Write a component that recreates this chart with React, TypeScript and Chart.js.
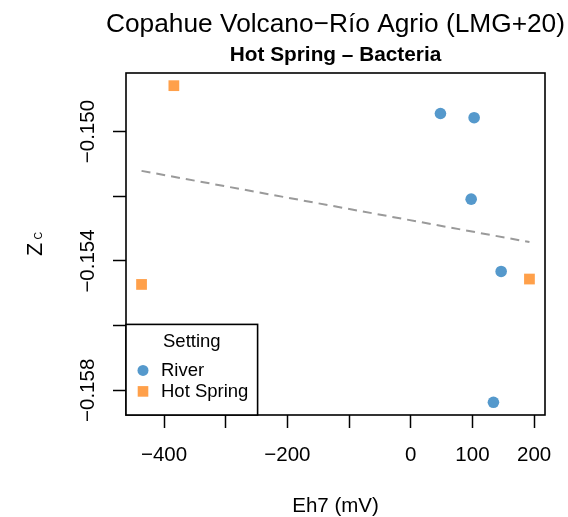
import React, { useEffect, useRef } from "react";
import { Chart, registerables } from "chart.js";
Chart.register(...registerables);

// ---- data ----
const riverX = [48.1, 102.7, 97.9, 146.5, 134.0];
const riverY = [-0.14944, -0.14957, -0.152088, -0.154324, -0.158371];
const hotX = [-384.1, 192.4, -436.5];
const hotY = [-0.14858, -0.154559, -0.154726];
const fitX = [-436.5, 192.4];
const fitY = [-0.151214, -0.153416];
const xTicks = [-400, -300, -200, -100, 0, 100, 200];
const xTickLabels = ["−400", "", "−200", "", "0", "100", "200"];
const yTicks = [-0.15, -0.152, -0.154, -0.156, -0.158];
const yTickLabels = ["−0.150", "", "−0.154", "", "−0.158"];
const xLimits = [-461.7, 217.6];
const yLimits = [-0.158763, -0.148188];
const mainTitle = "Copahue Volcano−Río Agrio (LMG+20)";
const subTitle = "Hot Spring – Bacteria";
const xTitle = "Eh7 (mV)";
const yTitleMain = "Z";
const yTitleSub = "C";
const legendTitle = "Setting";
const seriesNames = ["River", "Hot Spring"];
const seriesColors = ["#5599cc", "#ffa04a"];
const fitColor = "#9a9a9a";

const FONT = '"Liberation Sans", Arial, Helvetica, sans-serif';

const deco = {
  id: "deco",
  afterDraw(chart: any) {
    const ctx = chart.ctx as CanvasRenderingContext2D;
    const a = chart.chartArea;
    const ys = chart.scales.y;
    const cx = (a.left + a.right) / 2;
    const cy = (a.top + a.bottom) / 2;
    ctx.save();
    ctx.fillStyle = "#000";
    ctx.textAlign = "center";
    ctx.textBaseline = "alphabetic";
    ctx.font = `26.3px ${FONT}`;
    ctx.fillText(mainTitle, cx, 31.7);
    ctx.font = `bold 20.8px ${FONT}`;
    ctx.fillText(subTitle, cx, 60.5);
    ctx.font = `20.5px ${FONT}`;
    ctx.fillText(xTitle, cx, 511.5);

    // y tick labels (rotated)
    yTicks.forEach((v, i) => {
      if (!yTickLabels[i]) return;
      const py = ys.getPixelForValue(v);
      ctx.save();
      ctx.translate(a.left - 32.5, py);
      ctx.rotate(-Math.PI / 2);
      ctx.textAlign = "center";
      ctx.font = `20.5px ${FONT}`;
      ctx.fillText(yTickLabels[i], 0, 0);
      ctx.restore();
    });

    // y title Z_C
    ctx.save();
    ctx.translate(41.5, cy);
    ctx.rotate(-Math.PI / 2);
    ctx.textAlign = "left";
    ctx.font = `21.5px ${FONT}`;
    const zw = ctx.measureText(yTitleMain).width;
    ctx.font = `10.5px ${FONT}`;
    const cw = ctx.measureText(yTitleSub).width;
    const gap = 3.5;
    const start = -(zw + gap + cw) / 2;
    ctx.font = `21.5px ${FONT}`;
    ctx.fillText(yTitleMain, start, 0);
    ctx.font = `10.5px ${FONT}`;
    ctx.fillText(yTitleSub, start + zw + gap, 0.5);
    ctx.restore();

    // box
    ctx.strokeStyle = "#000";
    ctx.lineWidth = 1.6;
    ctx.strokeRect(a.left, a.top, a.right - a.left, a.bottom - a.top);

    // legend
    const lw = 131.6, lh = 90.6;
    const lx = a.left, ly = a.bottom - lh;
    ctx.fillStyle = "#fff";
    ctx.fillRect(lx, ly, lw, lh);
    ctx.strokeRect(lx, ly, lw, lh);
    ctx.fillStyle = "#000";
    ctx.font = `18.5px ${FONT}`;
    ctx.textAlign = "center";
    ctx.fillText(legendTitle, lx + lw / 2, ly + 22.3);
    ctx.textAlign = "left";
    seriesNames.forEach((name, i) => {
      const my = ly + 46 + i * 21;
      ctx.fillStyle = seriesColors[i];
      if (i === 0) {
        ctx.beginPath();
        ctx.arc(lx + 17, my, 5.5, 0, Math.PI * 2);
        ctx.fill();
      } else {
        ctx.fillRect(lx + 17 - 5.3, my - 5.3, 10.6, 10.6);
      }
      ctx.fillStyle = "#000";
      ctx.fillText(name, lx + 35, my + 5.8);
    });
    ctx.restore();
  },
};

export default function App() {
  const ref = useRef<HTMLCanvasElement | null>(null);
  useEffect(() => {
    document.body.style.margin = "0";
    const canvas = ref.current;
    if (!canvas) return;
    const chart = new Chart(canvas, {
      type: "scatter",
      data: {
        datasets: [
          {
            label: "fit",
            data: fitX.map((x, i) => ({ x, y: fitY[i] })),
            showLine: true,
            borderColor: fitColor,
            borderWidth: 2,
            borderDash: [9, 6],
            pointRadius: 0,
            fill: false,
          },
          {
            label: seriesNames[0],
            data: riverX.map((x, i) => ({ x, y: riverY[i] })),
            pointStyle: "circle",
            pointRadius: 5.8,
            backgroundColor: seriesColors[0],
            borderWidth: 0,
          },
          {
            label: seriesNames[1],
            data: hotX.map((x, i) => ({ x, y: hotY[i] })),
            pointStyle: "rect",
            pointRadius: 7.6,
            backgroundColor: seriesColors[1],
            borderWidth: 0,
          },
        ],
      },
      options: {
        animation: false,
        responsive: false,
        events: [],
        layout: { padding: { top: 73, right: 23, bottom: 0, left: 0 } },
        plugins: { legend: { display: false }, tooltip: { enabled: false } },
        scales: {
          x: {
            type: "linear",
            position: "bottom",
            min: xLimits[0],
            max: xLimits[1],
            afterBuildTicks: (s: any) => {
              s.ticks = xTicks.map((v) => ({ value: v }));
            },
            afterFit: (s: any) => {
              s.height = 102;
            },
            ticks: {
              autoSkip: false,
              maxRotation: 0,
              minRotation: 0,
              padding: 15,
              color: "#000",
              font: { family: FONT, size: 20.5 },
              callback: (v: any) => {
                const i = xTicks.indexOf(Number(v));
                return i >= 0 ? xTickLabels[i] : "";
              },
            },
            grid: {
              drawOnChartArea: false,
              drawTicks: true,
              tickLength: 13,
              tickColor: "#000",
              tickWidth: 1.5,
            },
            border: { display: false },
          },
          y: {
            type: "linear",
            position: "left",
            min: yLimits[0],
            max: yLimits[1],
            afterBuildTicks: (s: any) => {
              s.ticks = yTicks.map((v) => ({ value: v }));
            },
            afterFit: (s: any) => {
              s.width = 126;
            },
            ticks: {
              autoSkip: false,
              color: "#000",
              font: { family: FONT, size: 20.5 },
              callback: () => "",
            },
            grid: {
              drawOnChartArea: false,
              drawTicks: true,
              tickLength: 13,
              tickColor: "#000",
              tickWidth: 1.5,
            },
            border: { display: false },
          },
        },
      },
      plugins: [deco],
    } as any);
    return () => chart.destroy();
  }, []);
  return (
    <div style={{ width: 568, height: 517 }}>
      <canvas ref={ref} width={568} height={517} style={{ display: "block" }} />
    </div>
  );
}
